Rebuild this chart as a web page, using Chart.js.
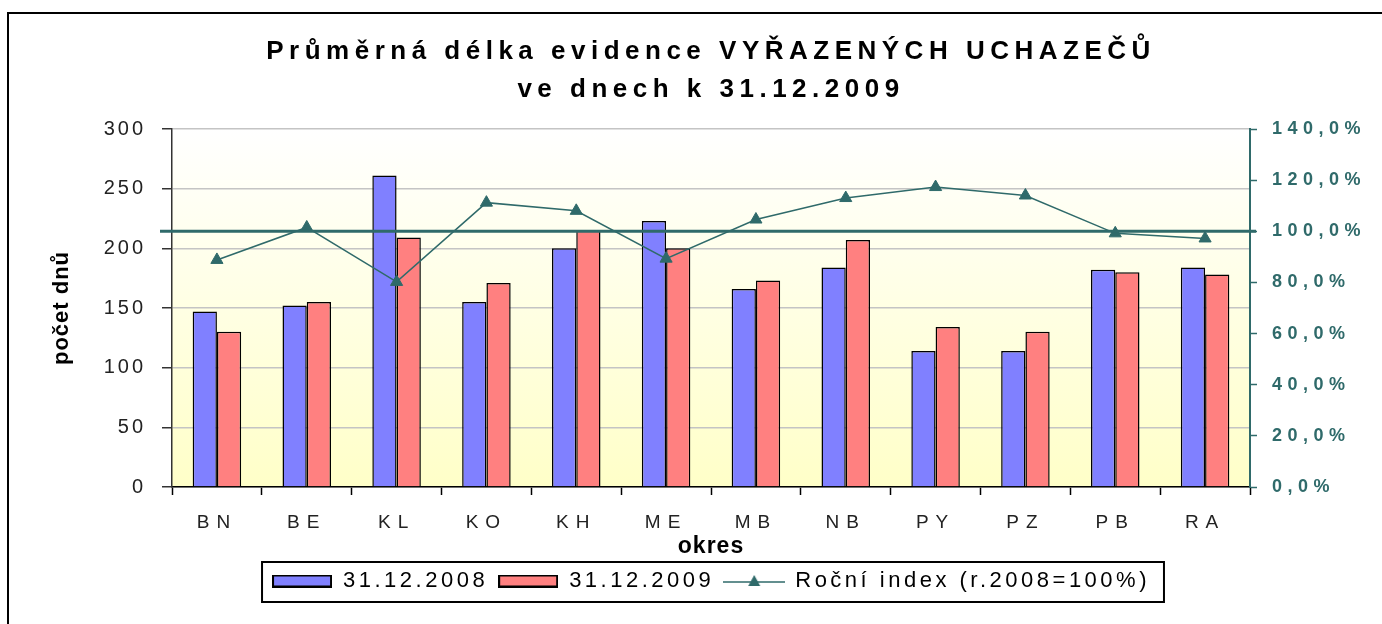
<!DOCTYPE html>
<html>
<head>
<meta charset="utf-8">
<script src="https://cdn.jsdelivr.net/npm/chart.js@4.4.1/dist/chart.umd.min.js"></script>
<style>
  html, body { margin: 0; padding: 0; background: #fff; }
  #chart { display: block; }
</style>
</head>
<body>
<canvas id="chart" width="1382" height="624"></canvas>
<script>
// data
const okresy = ['BN', 'BE', 'KL', 'KO', 'KH', 'ME', 'MB', 'NB', 'PY', 'PZ', 'PB', 'RA'];
const dny2008 = [147, 152, 261, 155, 200, 223, 166, 184, 114, 114, 182, 184];
const dny2009 = [130, 155, 209, 171, 215, 200, 173, 207, 134, 130, 180, 178];
const rocniIndex = [88.8, 101.5, 80.2, 111.2, 108.0, 89.3, 104.6, 113.0, 117.3, 114.0, 99.2, 97.2];
const indexBase = [100];
const titleLines = ['Průměrná délka evidence VYŘAZENÝCH UCHAZEČŮ', 've dnech k 31.12.2009'];
const seriesNames = ['31.12.2008', '31.12.2009', 'Roční index (r.2008=100%)'];

const teal = '#2f6a6a'
const blue = '#8080ff'
const red = '#ff8080'
const sans = "'Liberation Sans', Arial, sans-serif"

// letter spacing for one draw method of a chart box
function spaced(obj, method, px) {
  if (!obj || obj[method]._spaced) return;
  const orig = obj[method];
  const wrapped = function (...args) {
    const ctx = this.ctx;
    const prev = ctx.letterSpacing;
    ctx.letterSpacing = px + 'px';
    const r = orig.apply(this, args);
    ctx.letterSpacing = prev;
    return r;
  };
  wrapped._spaced = true;
  obj[method] = wrapped;
}

// small legend pictures
function swatch(fill) {
  const c = document.createElement('canvas');
  c.width = 60; c.height = 13;
  const g = c.getContext('2d');
  g.fillStyle = fill;
  g.fillRect(1, 1, 58, 11);
  g.strokeStyle = '#000';
  g.lineWidth = 2;
  g.strokeRect(1, 1, 58, 11);
  return c;
}
function lineIcon() {
  const c = document.createElement('canvas');
  c.width = 62; c.height = 16;
  const g = c.getContext('2d');
  g.strokeStyle = teal;
  g.lineWidth = 1.5;
  g.beginPath(); g.moveTo(0, 9); g.lineTo(62, 9); g.stroke();
  g.fillStyle = teal;
  g.beginPath(); g.moveTo(31, 2); g.lineTo(37, 13); g.lineTo(25, 13); g.closePath(); g.fill();
  return c;
}
const legendIcons = [swatch(blue), swatch(red), lineIcon()];

const chartLook = {
  id: 'chartLook',
  afterInit(chart) {
    spaced(chart.titleBlock, 'draw', 5.5);
    spaced(chart.legend, 'fit', 3.5);
    spaced(chart.legend, 'draw', 3.5);
  },
  beforeLayout(chart) {
    spaced(chart.scales.x, 'drawLabels', 7);
    spaced(chart.scales.y, 'drawLabels', 3);
    spaced(chart.scales.y1, 'drawLabels', 5.5);
    spaced(chart.scales.y, 'drawTitle', 1);
    spaced(chart.scales.x, 'drawTitle', 1);
  },
  beforeDraw(chart) {
    const { ctx, chartArea: a } = chart;
    ctx.save();
    ctx.strokeStyle = '#000';
    ctx.lineWidth = 2;
    ctx.strokeRect(8, 13, 1500, 800);
    const grad = ctx.createLinearGradient(0, a.top, 0, a.bottom);
    grad.addColorStop(0, '#ffffff');
    grad.addColorStop(1, '#ffffc8');
    ctx.fillStyle = grad;
    ctx.fillRect(a.left, a.top, a.right - a.left, a.bottom - a.top);
    ctx.restore();
  },
  afterDatasetsDraw(chart) {
    // 100 % level of the index
    const { ctx, chartArea: a } = chart;
    const y = chart.scales.y1.getPixelForValue(indexBase[0]);
    ctx.save();
    ctx.strokeStyle = teal;
    ctx.lineWidth = 3;
    ctx.beginPath(); ctx.moveTo(a.left - 12, y); ctx.lineTo(a.right + 6, y); ctx.stroke();
    ctx.restore();
  },
  afterDraw(chart) {
    // frame round the legend
    const boxes = chart.legend.legendHitBoxes;
    if (!boxes || !boxes.length) return;
    const left = Math.min(...boxes.map(b => b.left)) - 10;
    const right = Math.max(...boxes.map(b => b.left + b.width)) + 14;
    const mid = boxes[0].top + boxes[0].height / 2;
    const ctx = chart.ctx;
    ctx.save();
    ctx.strokeStyle = '#000';
    ctx.lineWidth = 2;
    ctx.strokeRect(left, mid - 19, right - left, 40);
    ctx.restore();
  }
};

new Chart(document.getElementById('chart'), {
  type: 'bar',
  data: {
    labels: okresy,
    datasets: [
      {
        label: seriesNames[0],
        data: dny2008,
        backgroundColor: blue,
        borderColor: '#000',
        borderWidth: 1.5,
        categoryPercentage: 0.54,
        barPercentage: 1,
        yAxisID: 'y',
        order: 1
      },
      {
        label: seriesNames[1],
        data: dny2009,
        backgroundColor: red,
        borderColor: '#000',
        borderWidth: 1.5,
        categoryPercentage: 0.54,
        barPercentage: 1,
        yAxisID: 'y',
        order: 1
      },
      {
        type: 'line',
        label: seriesNames[2],
        data: rocniIndex,
        borderColor: teal,
        backgroundColor: teal,
        borderWidth: 1.5,
        pointStyle: 'triangle',
        pointRadius: 7,
        pointBorderWidth: 1,
        tension: 0,
        yAxisID: 'y1',
        order: 0
      }
    ]
  },
  options: {
    responsive: false,
    animation: false,
    layout: { padding: { left: 40, right: 0, top: 0, bottom: 22 } },
    plugins: {
      title: {
        display: true,
        text: titleLines,
        color: '#000',
        font: { family: sans, size: 26, weight: 'bold', lineHeight: '38px' },
        padding: { top: 33, bottom: 20 }
      },
      legend: {
        position: 'bottom',
        labels: {
          color: '#000',
          font: { family: sans, size: 22 },
          usePointStyle: true,
          pointStyleWidth: 60,
          boxHeight: 12,
          padding: 10,
          sort: (a, b) => a.datasetIndex - b.datasetIndex,
          generateLabels(chart) {
            const items = Chart.defaults.plugins.legend.labels.generateLabels(chart);
            items.forEach(it => { it.pointStyle = legendIcons[it.datasetIndex]; });
            return items;
          }
        }
      },
      tooltip: { enabled: false }
    },
    scales: {
      x: {
        offset: true,
        grid: { offset: true, drawOnChartArea: false, tickLength: 8, tickColor: '#000', tickWidth: 1.5 },
        border: { color: '#000', width: 1.5 },
        ticks: { color: '#222', font: { family: sans, size: 19 }, padding: 16, autoSkip: false, maxRotation: 0 },
        title: { display: true, text: 'okres', color: '#000', font: { family: sans, size: 23, weight: 'bold' }, padding: { top: 0, bottom: 0 } },
        afterFit(scale) { scale.height = 73; }
      },
      y: {
        position: 'left',
        min: 0,
        max: 300,
        ticks: { stepSize: 50, color: '#222', font: { family: sans, size: 20 }, padding: 16 },
        grid: { color: '#c4c4c4', lineWidth: 1.5, tickLength: 10, tickColor: '#333' },
        border: { color: '#333', width: 1.5 },
        title: { display: true, text: 'počet dnů', color: '#000', font: { family: sans, size: 22, weight: 'bold' }, padding: { top: 9, bottom: 0 } },
        afterFit(scale) { scale.width = 132; }
      },
      y1: {
        position: 'right',
        min: 0,
        max: 140,
        ticks: {
          stepSize: 20,
          color: teal,
          font: { family: sans, size: 18, weight: 'bold' },
          padding: 15,
          callback: v => v.toFixed(1).replace('.', ',') + '%'
        },
        grid: { drawOnChartArea: false, tickLength: 7, tickColor: teal, tickWidth: 1.5 },
        border: { color: teal, width: 2 },
        afterFit(scale) { scale.width = 132; }
      }
    }
  },
  plugins: [chartLook]
});
</script>
</body>
</html>
